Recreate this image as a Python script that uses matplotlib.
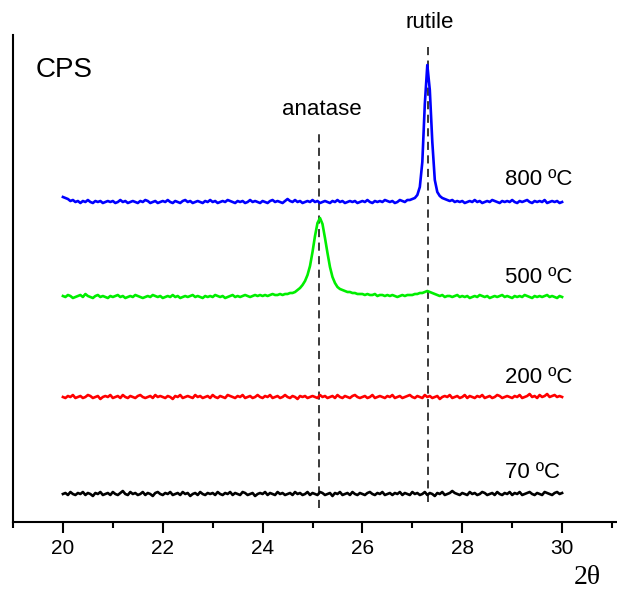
import numpy as np
import matplotlib
matplotlib.use("Agg")
import matplotlib.pyplot as plt

plt.rcParams["font.family"] = ["Liberation Sans", "DejaVu Sans"]

# 2-theta scan, 0.05 deg step from 20 to 30
two_theta = np.arange(201) * 0.05 + 20.0

# counts above each pattern's own baseline
cps_70 = [
    0, 1, -1, 2, 0, -1, 1, 0, 2, -1, 1, 0, -2, 1, 0, 2, -1, 0, 1, -1,
    2, 0, -1, 1, 3, 0, -1, 2, 0, 1, -1, 0, 2, -1, 1, 0, -2, 1, 2, 0,
    -1, 1, 0, 2, -1, 0, 1, -1, 2, 0, 1, -2, 0, 1, -1, 2, 0, -1, 1, 0,
    1, -1, 2, 0, -1, 1, 0, 2, -1, 1, 0, -1, 2, 1, -1, 0, 1, -2, 0, 1,
    0, 2, -1, 1, 0, -1, 2, 0, 1, -1, 0, 1, -1, 2, 0, 1, -1, 0, 2, -1,
    1, 0, -1, 2, 1, -1, 0, 1, -2, 1, 0, 2, -1, 0, 1, -1, 2, 0, -1, 1,
    0, -1, 1, 2, 0, -1, 1, 0, 2, -1, 0, 1, -1, 1, 0, 2, -1, 1, 0, -1,
    2, 0, 1, -1, 0, 2, -1, 1, 0, -2, 1, 0, 2, -1, 0, 1, 3, 1, 0, -1,
    1, 0, -1, 2, 0, 1, -1, 0, 2, 1, -1, 0, 1, -1, 2, 0, -1, 1, 0, 2,
    -1, 1, 0, 2, -1, 0, 1, 2, 0, -1, 1, 0, -1, 2, 1, 0, -1, 1, 2, 0,
    1,
]
cps_200 = [
    0, -1, 1, 0, 2, -1, 0, 1, -1, 0, 2, 1, -1, 0, 1, -2, 0, 1, 0, 2,
    -1, 0, 1, -1, 2, 0, -1, 1, 0, -1, 1, 2, 0, -1, 0, 1, -1, 2, 0, 1,
    0, -1, 1, 0, -2, 1, 0, 2, -1, 0, 1, 0, -1, 2, 0, 1, -1, 0, 1, -1,
    2, 0, -1, 1, 0, -1, 2, 1, 0, -1, 1, 0, 2, -1, 0, 1, -1, 0, 2, 0,
    -1, 1, 0, 2, -1, 0, 1, -1, 0, 2, 0, -1, 1, 0, -2, 1, 0, 1, -1, 0,
    1, 0, -1, 2, 0, 1, -1, 0, 1, -1, 2, 0, -1, 1, 0, -1, 1, 2, 0, -1,
    0, 1, -1, 0, 2, -1, 0, 1, 0, -1, 1, 0, 2, -1, 0, 1, -1, 0, 1, 2,
    0, -1, 1, 0, -1, 2, 0, 1, -1, 0, 1, -2, 0, 1, 0, 2, -1, 0, 1, -1,
    0, 2, -1, 1, 0, -1, 1, 0, 2, -1, 0, 1, -1, 0, 2, 1, -1, 0, 1, 0,
    -1, 1, 0, 2, -1, 0, 1, 3, 0, 1, -1, 2, 0, 1, 3, 0, 1, 2, 0, 1,
    0,
]
cps_500 = [
    1, 0, 2, 1, -1, 0, 1, 2, 0, 3, 1, 0, -1, 1, 2, 0, 1, 0, -1, 1,
    0, 1, 2, 0, 1, -1, 0, 1, 0, 2, 1, 0, -1, 0, 1, 0, 2, 1, 0, 1,
    -1, 0, 1, 0, 2, 0, 1, -1, 0, 1, 0, 1, 2, 0, 1, 0, -1, 1, 0, 1,
    0, 2, 1, 0, 1, -1, 0, 1, 2, 0, 1, 0, 1, 2, 1, 0, 1, 2, 1, 2,
    1, 2, 1, 2, 3, 2, 2, 3, 2, 3, 3, 4, 4, 5, 7, 9, 12, 16, 22, 31,
    45, 61, 74, 79, 73, 59, 44, 30, 20, 14, 10, 8, 7, 6, 5, 5, 4, 4, 3, 3,
    3, 2, 3, 2, 2, 3, 1, 2, 2, 1, 2, 1, 2, 1, 0, 1, 2, 1, 2, 2,
    2, 3, 3, 4, 4, 5, 6, 5, 4, 3, 2, 1, 2, 0, 1, 1, 0, 1, 2, 0,
    1, 0, 1, -1, 0, 1, 0, 2, 1, 0, 1, -1, 0, 1, 0, 1, 2, 0, 1, 0,
    -1, 1, 0, 1, 0, 2, 1, 0, -1, 1, 0, 1, 0, 1, 2, 0, 1, 0, -1, 1,
    0,
]
cps_800 = [
    5, 4, 3, 1, 2, 0, 1, -1, 1, 0, 2, 0, -1, 1, 0, 1, -1, 0, 1, 0,
    1, -1, 0, 2, 0, 1, -1, 0, 1, 0, -1, 1, 0, 2, 1, -1, 0, 1, -1, 0,
    1, 0, 2, 0, -1, 1, 0, -1, 1, 2, 0, 1, -1, 0, 1, 0, -1, 1, 0, 2,
    0, 1, -1, 0, 1, 0, 2, 1, 0, -1, 1, 0, 1, -1, 0, 2, 0, 1, 0, -1,
    1, 0, -1, 1, 2, 0, 1, 0, -1, 1, 3, 1, 0, 2, 0, 1, -1, 0, 1, 0,
    2, 0, 1, -1, 0, 1, 0, -1, 1, 0, 2, 0, 1, -1, 0, 1, 0, 1, -1, 0,
    1, 0, 2, 0, -1, 1, 0, 1, 0, 2, 1, 0, 1, -1, 0, 2, 1, 0, 2, 2,
    3, 4, 7, 15, 40, 98, 137, 112, 60, 22, 10, 6, 4, 3, 2, 1, 2, 0, 1, 0,
    1, -1, 0, 1, 0, 2, 0, 1, -1, 0, 1, 0, 2, 1, 0, -1, 1, 0, 1, 0,
    2, 0, -1, 1, 0, 1, 2, 0, -1, 1, 0, 1, 0, 2, -1, 0, 1, 0, 1, -1,
    0,
]

temperatures = ["70 ºC", "200 ºC", "500 ºC", "800 ºC"]
patterns = [cps_70, cps_200, cps_500, cps_800]
offsets = [28, 125, 225, 320]
colors = ["black", "#ff0000", "#00ee00", "#0000ff"]
label_gap = [16, 14, 14, 17]

# reference reflections (position, dashed-line span, label)
phase_names = ["anatase", "rutile"]
phase_pos = [25.14, 27.31]
phase_ymin = [14, 20]
phase_ymax = [389, 477]
phase_label_y = [407, 494]

fig = plt.figure(figsize=(6.17, 5.91), dpi=100)
ax = fig.add_axes([13 / 617, 1 - 522 / 591, 604 / 617, 487 / 591])

for y, off, c in zip(patterns, offsets, colors):
    ax.plot(two_theta, np.asarray(y) + off, color=c, lw=1.9, zorder=3)

for name, xp, y0, y1, yl in zip(phase_names, phase_pos, phase_ymin,
                                phase_ymax, phase_label_y):
    ax.plot([xp, xp], [y0, y1], ls=(0, (4.5, 3)), color="#2a2a2a", lw=1.3,
            zorder=2)
    ax.text(xp + 0.04, yl, name, ha="center", va="baseline", fontsize=16)

for t, off, g in zip(temperatures, offsets, label_gap):
    ax.text(28.86, off + g, t, ha="left", va="baseline", fontsize=16)

ax.text(19.46, 445, "CPS", ha="left", va="baseline", fontsize=20)
ax.text(30.5, -56, "2θ", ha="center", va="center", fontsize=20,
        family=["Liberation Serif", "DejaVu Serif"], clip_on=False)

ax.set_xlim(19.0, 31.1)
ax.set_ylim(0, 487)
ax.set_xticks([20, 22, 24, 26, 28, 30])
ax.set_xticks([19, 21, 23, 25, 27, 29, 31], minor=True)
ax.set_yticks([])
ax.tick_params(axis="x", which="major", direction="out", length=8, width=1.5,
               labelsize=15, pad=4)
ax.tick_params(axis="x", which="minor", direction="out", length=4, width=1.5)
for side in ("top", "right"):
    ax.spines[side].set_visible(False)
for side in ("left", "bottom"):
    ax.spines[side].set_linewidth(1.5)
ax.patch.set_alpha(0)

fig.savefig("out.png", dpi=100)
